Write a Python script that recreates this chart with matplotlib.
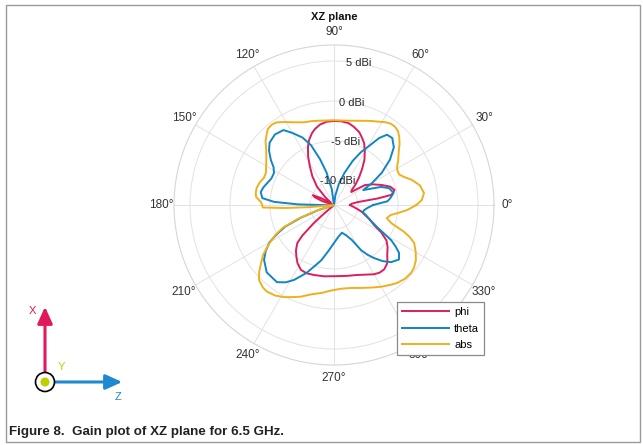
import numpy as np
import matplotlib
matplotlib.use("Agg")
from matplotlib import pyplot as plt
from matplotlib.patches import Circle, Rectangle

plt.rcParams['font.family'] = ['Liberation Sans', 'DejaVu Sans']

# gain in dBi, angles in degrees
phi_ang = [0, 4, 7, 8.5, 10, 14, 18, 22.6, 28, 32.8, 37, 40, 44, 48, 52, 56, 60, 64, 68, 71,
           76, 80, 85, 90, 95, 100, 104, 107, 111, 114, 118, 122, 127, 133, 138, 144, 150,
           152, 155, 158, 162, 168, 180, 200, 218, 221, 222, 224, 226, 230, 234, 238, 243,
           248, 254, 262, 270, 280, 288, 295, 300, 304, 308, 312, 314, 317, 322, 326, 330,
           333, 338, 342, 346, 350, 355, 360]
phi_db = [-11.0, -10.8, -10.0, -7.5, -5.7, -5.2, -5.6, -6.5, -7.5, -8.4, -10.3, -10.1, -9.2,
          -8.3, -7.3, -6.2, -5.3, -4.4, -3.8, -3.35, -2.9, -2.6, -2.5, -2.5, -2.55, -2.8,
          -3.2, -3.6, -4.3, -5.0, -6.1, -7.3, -8.5, -9.9, -11.5, -12.5, -12.0, -11.2, -10.1,
          -10.4, -11.5, -13, -13, -13, -13, -11.0, -9.5, -7.5, -6.4, -5.6, -5.0, -4.4, -3.9,
          -3.8, -3.9, -4.0, -4.1, -4.0, -3.8, -3.4, -3.0, -2.8, -2.8, -3.1, -3.4, -3.9, -4.5,
          -5.1, -6.2, -7.3, -8.2, -8.9, -9.4, -10.0, -10.6, -11.0]

theta_ang = [0, 4, 7, 11.5, 17, 21, 24, 27, 30, 34, 39, 44, 49, 53, 56, 59, 63, 67, 72, 77,
             82, 87, 95, 98, 103, 107, 111, 115, 120, 124, 130, 136, 140, 144.5, 148, 152,
             157, 162, 166, 170, 174.5, 177, 179, 181, 183, 195, 198, 201, 204, 207, 210,
             214, 218, 225, 233.5, 238, 242, 248, 252, 257, 263, 270, 278, 286, 292, 297,
             301, 304, 307, 311, 315, 320, 323.6, 326, 328.4, 333, 338, 343, 346, 350, 355,
             360]
theta_db = [-8.1, -6.3, -5.9, -5.4, -5.8, -6.7, -8.0, -8.9, -7.5, -5.8, -4.0, -2.6, -1.9,
            -2.0, -2.9, -4.3, -5.6, -7.0, -8.8, -10.3, -11.8, -13, -13, -11.0, -8.8, -7.0,
            -5.0, -3.7, -2.6, -1.7, -1.5, -1.8, -2.4, -3.3, -4.1, -4.5, -4.5, -4.2, -3.9,
            -3.7, -4.0, -5.5, -8.5, -12.0, -13, -13, -11.0, -8.5, -6.3, -5.0, -3.7, -2.7,
            -1.9, -1.1, -1.0, -1.6, -2.4, -3.85, -4.9, -5.9, -7.2, -8.25, -9.0, -9.4, -8.9,
            -8.1, -6.4, -5.5, -4.7, -3.7, -2.9, -2.4, -2.9, -3.7, -4.6, -7.0, -8.2, -8.9,
            -9.3, -9.2, -8.8, -8.1]

abs_ang = [0, 3.3, 7.6, 13, 18, 22, 25, 28, 31, 35, 39, 43, 46, 49, 52, 55, 58, 62, 66, 70,
           75, 80, 85, 90, 95, 100, 105, 110, 115, 121, 125, 128, 131, 133, 137, 141, 146,
           151, 155, 159, 163, 167.5, 171, 174, 178, 182, 183.5, 185, 187, 194, 198, 201,
           204, 207, 211, 215, 218.5, 222, 225, 229, 232, 237, 241.5, 246, 250, 256, 262,
           268, 275, 282, 288, 294, 300, 305, 309, 314, 318.6, 322, 326, 330, 334.6, 337,
           339, 342.5, 346, 350, 353, 356, 360]
abs_db = [-2.7, -2.0, -1.65, -2.0, -2.8, -3.6, -4.0, -4.0, -3.8, -3.2, -2.6, -1.8, -1.25,
          -0.8, -0.6, -0.6, -0.8, -1.2, -1.5, -1.8, -2.1, -2.3, -2.4, -2.4, -2.4, -2.3, -2.15,
          -2.0, -1.6, -0.9, -0.4, -0.3, -0.4, -0.7, -1.3, -2.1, -2.8, -3.3, -3.6, -3.6, -3.3,
          -3.1, -3.1, -3.2, -3.9, -4.1, -6.8, -10.0, -13, -13, -10.8, -8.2, -6.0, -4.8, -3.5,
          -2.2, -1.35, -0.4, 0.25, 0.6, 0.7, 0.5, 0.1, -0.4, -0.8, -1.5, -1.9, -2.3, -2.5,
          -2.4, -2.1, -1.7, -1.2, -0.8, -0.46, -0.2, -0.16, -0.3, -0.66, -1.2, -1.9, -2.7,
          -3.6, -5.5, -6.2, -5.8, -4.9, -3.85, -2.7]

r_ticks = [-10, -5, 0, 5]
r_min, r_max = -13, 7

W, H = 643, 445
fig = plt.figure(figsize=(W / 100, H / 100), dpi=100)

# page frame, caption and the axis icon, drawn in pixel space
deco = fig.add_axes([0, 0, 1, 1], zorder=0)
deco.set_xlim(0, W)
deco.set_ylim(H, 0)
deco.axis('off')
deco.add_patch(Rectangle((6, 5), 634, 437, fill=False, ec='#9a9a9a', lw=1))
deco.text(9, 432, 'Figure 8.  Gain plot of XZ plane for 6.5 GHz.', fontsize=9.6,
          fontweight='bold', color='#222222', va='center', ha='left')

red = '#E0195A'
blue = '#1E88D0'
lime = '#BFD000'
deco.annotate('', xy=(45, 304), xytext=(45, 374),
              arrowprops=dict(arrowstyle='-|>,head_length=1.0,head_width=0.45', color=red, lw=2.2))
deco.annotate('', xy=(125, 382), xytext=(53, 382),
              arrowprops=dict(arrowstyle='-|>,head_length=1.0,head_width=0.45', color=blue, lw=2.2))
deco.add_patch(Circle((45, 382), 9.5, fc='white', ec='black', lw=1.2, zorder=5))
deco.add_patch(Circle((45, 382), 4.5, fc=lime, ec='none', zorder=6))
deco.text(32, 311, 'X', color=red, fontsize=8, ha='center', va='center')
deco.text(61, 367, 'Y', color=lime, fontsize=8, ha='center', va='center')
deco.text(118, 397, 'Z', color=blue, fontsize=8, ha='center', va='center')

# polar plot, centre at (334, 205) px, radius 160 px
cx, cy, rad = 334, 205, 160
ax = fig.add_axes([(cx - rad) / W, (H - cy - rad) / H, 2 * rad / W, 2 * rad / H],
                  projection='polar', zorder=2)
ax.set_facecolor('none')

ax.plot(np.deg2rad(phi_ang), phi_db, color='#DC1F5C', lw=1.4, label='phi')
ax.plot(np.deg2rad(theta_ang), theta_db, color='#1384C4', lw=1.4, label='theta')
ax.plot(np.deg2rad(abs_ang), abs_db, color='#EDB120', lw=1.4, label='abs')

ax.set_rlim(r_min, r_max)
ax.set_rticks(r_ticks)
ax.set_yticklabels([])
for v in r_ticks:
    ax.text(np.deg2rad(80), v, f'{v} dBi', fontsize=8, color='#262626',
            ha='center', va='center')

# angle labels centred on a circle just outside the plot edge
angles = np.arange(0, 360, 30)
ax.set_thetagrids(angles, [''] * len(angles))
lab_r = r_max + 1.65
for a in angles:
    ax.text(np.deg2rad(a), lab_r, f'{a}°', fontsize=8.5, color='#333333',
            ha='center', va='center', clip_on=False)
ax.grid(color='#e2e2e2', lw=0.7)
ax.spines['polar'].set_color('#d6d6d6')
ax.spines['polar'].set_linewidth(0.8)

fig.text(cx / W, 1 - 17 / H, 'XZ plane', fontsize=8, fontweight='bold',
         ha='center', va='center', color='#111111')

leg = ax.legend(loc='upper left', bbox_to_anchor=(397 / W, 1 - 302 / H),
                bbox_transform=fig.transFigure, borderaxespad=0, fontsize=8,
                handlelength=4.2, labelspacing=0.6, borderpad=0.45, handletextpad=0.5,
                fancybox=False, framealpha=1, edgecolor='#8a8a8a')
leg.get_frame().set_linewidth(0.9)
leg.set_zorder(10)

fig.savefig('out.png', dpi=100)
